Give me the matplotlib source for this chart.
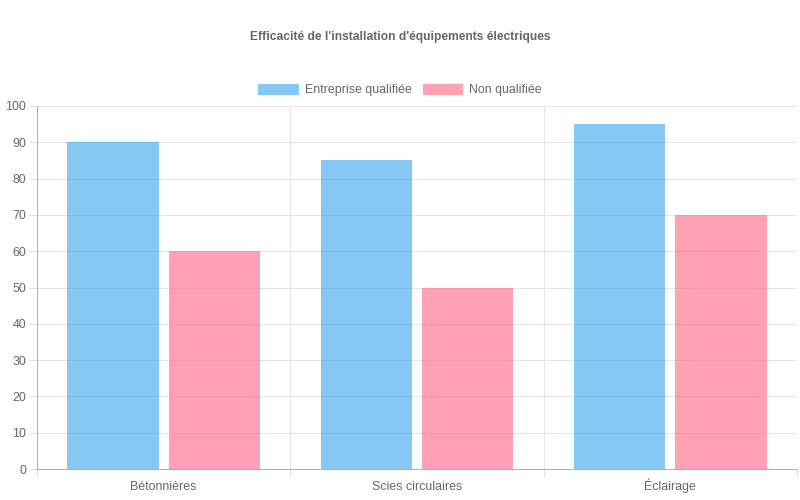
import matplotlib
matplotlib.use("Agg")
import matplotlib.pyplot as plt
import matplotlib.transforms as mtransforms
import numpy as np
from matplotlib.patches import Patch

categories = ["Bétonnières", "Scies circulaires", "Éclairage"]
qualifiee = [90, 85, 95]
non_qualifiee = [60, 50, 70]
series_labels = ["Entreprise qualifiée", "Non qualifiée"]
y_ticks = [0, 10, 20, 30, 40, 50, 60, 70, 80, 90, 100]

plt.rcParams["font.family"] = ["Liberation Sans", "DejaVu Sans"]
texte = "#666666"
taille = 8.9
bleu = (54 / 255, 162 / 255, 235 / 255, 0.6)
rose = (255 / 255, 99 / 255, 132 / 255, 0.6)

fig = plt.figure(figsize=(8, 5), dpi=100)
ax = fig.add_axes([37 / 800, 31 / 500, 760 / 800, 363 / 500])

x = np.arange(len(categories))
largeur = 0.8 / 2
barre = largeur * 0.9
ax.bar(x - largeur / 2, qualifiee, width=barre, color=bleu, linewidth=0, zorder=3)
ax.bar(x + largeur / 2, non_qualifiee, width=barre, color=rose, linewidth=0, zorder=3)

ax.set_xlim(-0.5, len(categories) - 0.5)
ax.set_ylim(0, 100)
ax.set_yticks(y_ticks)
ax.set_xticks(x)
ax.set_xticklabels([])

# étiquettes de catégories alignées sur la ligne de base
trans = mtransforms.blended_transform_factory(ax.transData, ax.transAxes)
for xi, nom in zip(x, categories):
    ax.text(xi, -21 / 363, nom, transform=trans, ha="center", va="baseline",
            fontsize=taille, color=texte)

# lignes de grille verticales entre les catégories
ax.set_xticks(np.arange(len(categories) + 1) - 0.5, minor=True)
ax.grid(True, axis="y", color="#e5e5e5", linewidth=0.75, zorder=0)
ax.grid(True, axis="x", which="minor", color="#e5e5e5", linewidth=0.75, zorder=0)

ax.tick_params(axis="x", which="major", length=0)
ax.tick_params(axis="x", which="minor", length=6, color="#e0e0e0", width=0.75)
ax.tick_params(axis="y", length=6, color="#e0e0e0", width=0.75, pad=2, labelsize=taille, labelcolor=texte)

for cote in ["top", "right"]:
    ax.spines[cote].set_visible(False)
ax.spines["left"].set_color("#b0b0b0")
ax.spines["bottom"].set_color("#b0b0b0")
ax.spines["left"].set_linewidth(0.75)
ax.spines["bottom"].set_linewidth(0.75)

fig.text(0.5, 1 - 37 / 500, "Efficacité de l'installation d'équipements électriques",
         ha="center", va="center", fontsize=8.64, fontweight="bold", color=texte)

poignees = [Patch(facecolor=bleu, linewidth=0, label=series_labels[0]),
            Patch(facecolor=rose, linewidth=0, label=series_labels[1])]
leg = fig.legend(handles=poignees, loc="center", bbox_to_anchor=(0.5, 1 - 90 / 500), ncol=2,
                 frameon=False, fontsize=taille, handlelength=3.25, handleheight=1.0,
                 handletextpad=0.5, columnspacing=0.9, borderpad=0)
for t in leg.get_texts():
    t.set_color(texte)

fig.savefig("out.png", dpi=100)
